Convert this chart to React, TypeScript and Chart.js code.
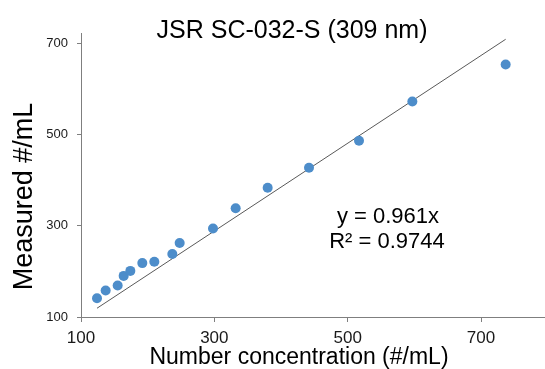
import React, { useEffect, useRef } from 'react';
import { Chart, registerables } from 'chart.js';

Chart.register(...registerables);

const titleText = 'JSR SC-032-S (309 nm)';
const xTitle = 'Number concentration (#/mL)';
const yTitle = 'Measured #/mL';

const concentration = [124, 137, 155, 164, 174, 192, 210, 237, 248, 298, 332, 380, 442, 517, 597, 737];
const measured = [141, 158, 169, 190, 201, 218, 221, 238, 262, 294, 338, 383, 427, 486, 572, 653];

const xTickValues = [100, 300, 500, 700];
const yTickValues = [100, 300, 500, 700];

const trendSlope = 0.961;
const rSquared = 0.9744;
const trendXRange = [124, 737];

const FONT = "'Liberation Sans', Arial, sans-serif";

export default function App() {
  const ref = useRef<HTMLCanvasElement | null>(null);

  useEffect(() => {
    const canvas = ref.current;
    if (!canvas) return;

    const textPlugin = {
      id: 'textPlugin',
      afterDraw(chart: any) {
        const ctx = chart.ctx;
        ctx.save();
        ctx.fillStyle = '#000000';
        ctx.textBaseline = 'alphabetic';
        ctx.textAlign = 'center';
        ctx.font = `25px ${FONT}`;
        ctx.fillText(titleText, 292, 38);

        ctx.font = `22px ${FONT}`;
        ctx.fillText(`y = ${trendSlope}x`, 388, 223);
        ctx.fillText(`R² = ${rSquared}`, 387, 248);

        ctx.font = `23px ${FONT}`;
        ctx.fillText(xTitle, 299, 364);

        ctx.translate(32, 196.5);
        ctx.rotate(-Math.PI / 2);
        ctx.font = `27px ${FONT}`;
        ctx.fillText(yTitle, 0, 0);
        ctx.restore();
      },
    };

    const points = concentration.map((x, i) => ({ x, y: measured[i] }));
    const trend = trendXRange.map((x) => ({ x, y: trendSlope * x }));

    const chart = new Chart(canvas, {
      type: 'scatter',
      data: {
        datasets: [
          {
            type: 'line',
            data: trend,
            borderColor: '#595959',
            borderWidth: 1,
            pointRadius: 0,
            fill: false,
            order: 2,
          } as any,
          {
            data: points,
            backgroundColor: '#4D8DCA',
            borderColor: '#4D8DCA',
            pointRadius: 5,
            pointBorderWidth: 0,
            order: 1,
          },
        ],
      },
      options: {
        animation: false,
        responsive: false,
        layout: { autoPadding: false, padding: { top: 33, right: 0, left: 0, bottom: 0 } },
        plugins: {
          legend: { display: false },
          tooltip: { enabled: false },
          title: { display: false },
        },
        scales: {
          x: {
            type: 'linear',
            min: 100,
            max: 796,
            afterBuildTicks: (scale: any) => {
              scale.ticks = xTickValues.map((v) => ({ value: v }));
            },
            afterFit: (scale: any) => {
              scale.height = 52;
              scale.paddingLeft = 0;
              scale.paddingRight = 0;
            },
            grid: { drawOnChartArea: false, drawTicks: true, tickLength: 5, color: '#7f7f7f' },
            border: { display: true, color: '#7f7f7f', width: 1 },
            ticks: {
              font: { family: FONT, size: 17 },
              color: '#1a1a1a',
              padding: 6,
              maxRotation: 0,
            },
          },
          y: {
            type: 'linear',
            min: 100,
            max: 722,
            afterBuildTicks: (scale: any) => {
              scale.ticks = yTickValues.map((v) => ({ value: v }));
            },
            afterFit: (scale: any) => {
              scale.width = 81;
              scale.paddingTop = 0;
              scale.paddingBottom = 0;
            },
            grid: { drawOnChartArea: false, drawTicks: true, tickLength: 4, color: '#7f7f7f' },
            border: { display: true, color: '#7f7f7f', width: 1 },
            ticks: {
              font: { family: FONT, size: 13 },
              color: '#1a1a1a',
              padding: 9,
            },
          },
        },
      },
      plugins: [textPlugin],
    });

    return () => chart.destroy();
  }, []);

  return (
    <div style={{ position: 'fixed', left: 0, top: 0, width: 545, height: 369, background: '#fff' }}>
      <canvas ref={ref} width={545} height={369} style={{ display: 'block', width: 545, height: 369 }} />
    </div>
  );
}
